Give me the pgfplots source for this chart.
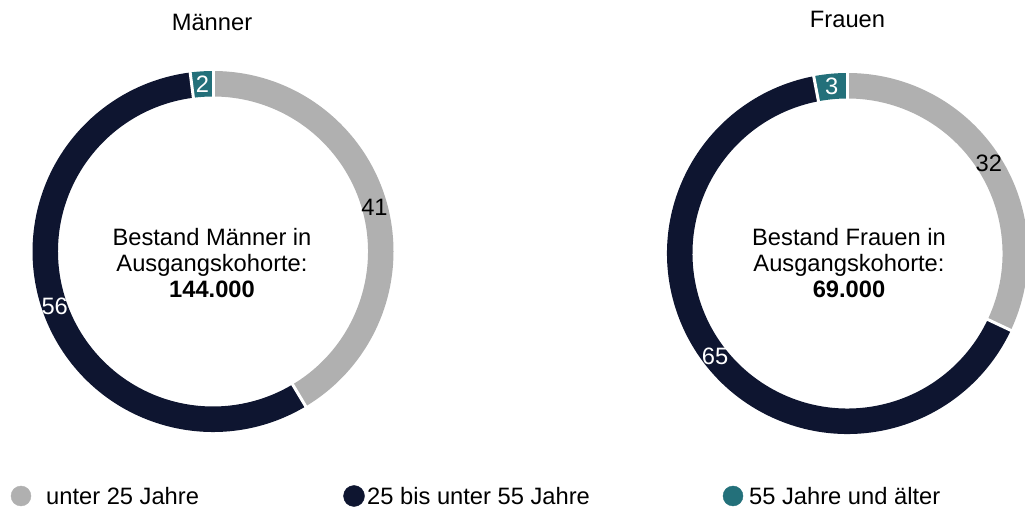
\documentclass[border=0pt]{standalone}
\usepackage{pgfplots}
\pgfplotsset{compat=1.18}
\usepackage{fontspec}
\setmainfont{Liberation Sans}
\definecolor{cgray}{HTML}{B0B0B0}
\definecolor{cnavy}{HTML}{0E1530}
\definecolor{cteal}{HTML}{23707A}

% data (shares in %)
\def\mA{41}\def\mB{56}\def\mC{2}
\def\fA{32}\def\fB{65}\def\fC{3}

\newcommand\seg[5]{%
  \fill[#5] ([shift={(#3:180.5pt)}]axis cs:#1,#2) arc[start angle=#3,end angle=#4,radius=180.5pt]
    -- ([shift={(#4:155pt)}]axis cs:#1,#2) arc[start angle=#4,end angle=#3,radius=155pt] -- cycle;}
\newcommand\sep[3]{%
  \draw[white,line width=3pt] ([shift={(#3:150pt)}]axis cs:#1,#2) -- ([shift={(#3:186pt)}]axis cs:#1,#2);}
\newcommand\lab[6]{%
  \node[text=#5,inner sep=0pt] at ([shift={({(#3+#4)/2}:167.5pt)}]axis cs:#1,#2) {#6};}

\begin{document}%
\begin{tikzpicture}
\pgfmathsetmacro\mT{\mA+\mB+\mC}
\pgfmathsetmacro\mSa{90}
\pgfmathsetmacro\mSb{90-(360/\mT)*\mA}
\pgfmathsetmacro\mSc{90-(360/\mT)*(\mA+\mB)}
\pgfmathsetmacro\mSd{-270}
\pgfmathsetmacro\fT{\fA+\fB+\fC}
\pgfmathsetmacro\fSa{90}
\pgfmathsetmacro\fSb{90-(360/\fT)*\fA}
\pgfmathsetmacro\fSc{90-(360/\fT)*(\fA+\fB)}
\pgfmathsetmacro\fSd{-270}
\fontsize{23.7}{27}\selectfont
\begin{axis}[width=1025pt,height=511pt,scale only axis,
  xmin=0,xmax=1025,ymin=0,ymax=511,hide axis,clip=true]
% Männer donut
\seg{213}{259.5}{\mSa}{\mSb}{cgray}
\seg{213}{259.5}{\mSb}{\mSc}{cnavy}
\seg{213}{259.5}{\mSc}{\mSd}{cteal}
\sep{213}{259.5}{\mSa}
\sep{213}{259.5}{\mSb}
\sep{213}{259.5}{\mSc}
\lab{213}{259.5}{\mSa}{\mSb}{black}{\mA}
\lab{213}{259.5}{\mSb}{\mSc}{white}{\mB}
\lab{213}{259.5}{\mSc}{\mSd}{white}{\mC}
% Frauen donut
\seg{847.5}{257.5}{\fSa}{\fSb}{cgray}
\seg{847.5}{257.5}{\fSb}{\fSc}{cnavy}
\seg{847.5}{257.5}{\fSc}{\fSd}{cteal}
\sep{847.5}{257.5}{\fSa}
\sep{847.5}{257.5}{\fSb}
\sep{847.5}{257.5}{\fSc}
\lab{847.5}{257.5}{\fSa}{\fSb}{black}{\fA}
\lab{847.5}{257.5}{\fSb}{\fSc}{white}{\fB}
\lab{847.5}{257.5}{\fSc}{\fSd}{white}{\fC}
% titles
\node[anchor=base,inner sep=0pt] at (axis cs:212,480) {Männer};
\node[anchor=base,inner sep=0pt] at (axis cs:847.5,483) {Frauen};
% centre texts
\node[anchor=base,inner sep=0pt] at (axis cs:212,265) {Bestand Männer in};
\node[anchor=base,inner sep=0pt] at (axis cs:212,239) {Ausgangskohorte:};
\node[anchor=base,inner sep=0pt] at (axis cs:212,213.5) {\bfseries 144.000};
\node[anchor=base,inner sep=0pt] at (axis cs:849,265) {Bestand Frauen in};
\node[anchor=base,inner sep=0pt] at (axis cs:849,239) {Ausgangskohorte:};
\node[anchor=base,inner sep=0pt] at (axis cs:849,213.5) {\bfseries 69.000};
% legend
\addplot[only marks,mark=*,mark size=10pt,cgray,mark options={draw=cgray,fill=cgray}] coordinates {(21,15)};
\addplot[only marks,mark=*,mark size=10.5pt,cnavy,mark options={draw=cnavy,fill=cnavy}] coordinates {(354,15)};
\addplot[only marks,mark=*,mark size=10pt,cteal,mark options={draw=cteal,fill=cteal}] coordinates {(733,15)};
\node[anchor=base west,inner sep=0pt] at (axis cs:46,6) {unter 25 Jahre};
\node[anchor=base west,inner sep=0pt] at (axis cs:367,6) {25 bis unter 55 Jahre};
\node[anchor=base west,inner sep=0pt] at (axis cs:749,6) {55 Jahre und älter};
\end{axis}
\pgfresetboundingbox
\path[use as bounding box] (current axis.south west) rectangle (current axis.north east);
\end{tikzpicture}%
\end{document}
